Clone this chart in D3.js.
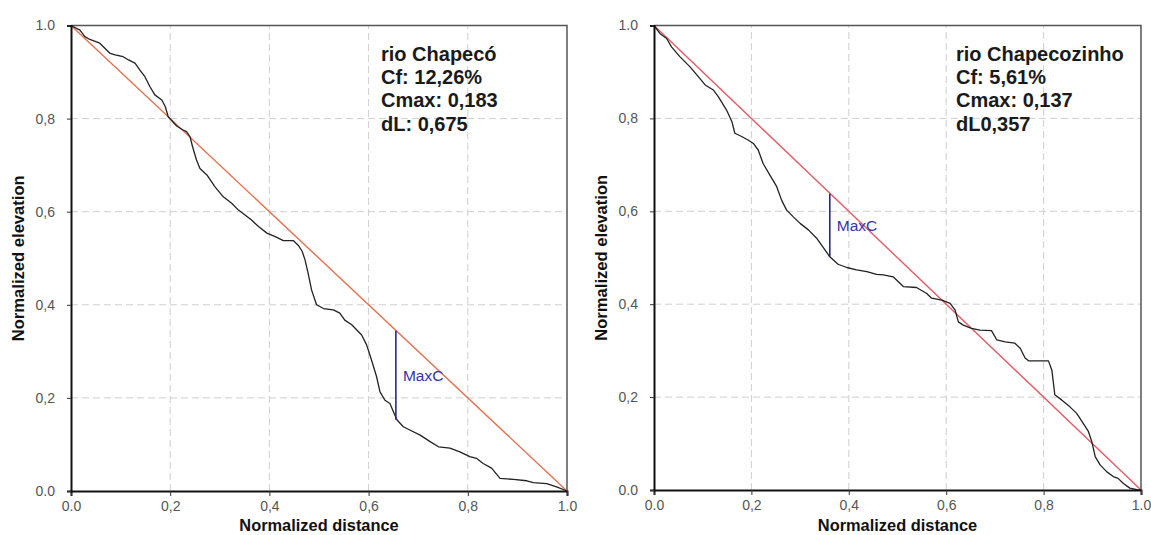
<!DOCTYPE html>
<html>
<head>
<meta charset="utf-8">
<script src="https://cdn.jsdelivr.net/npm/d3@7"></script>
<style>
  html, body { margin: 0; padding: 0; background: #fff; }
  svg { display: block; font-family: "Liberation Sans", Arial, sans-serif; }
</style>
</head>
<body>
<svg id="chart" width="1151" height="535"></svg>
<script>
// ---- Data ----
const tickValues = [0, 0.2, 0.4, 0.6, 0.8, 1.0];
const tickLabels = ["0.0", "0,2", "0,4", "0,6", "0,8", "1.0"];

const chapecoDistance = [0, 0.018, 0.028, 0.038, 0.058, 0.079, 0.089, 0.105, 0.116, 0.129, 0.139, 0.149, 0.159, 0.169, 0.183, 0.190, 0.196, 0.201, 0.213, 0.225, 0.233, 0.240, 0.245, 0.253, 0.260, 0.274, 0.290, 0.307, 0.324, 0.337, 0.351, 0.364, 0.378, 0.395, 0.415, 0.428, 0.448, 0.458, 0.466, 0.472, 0.478, 0.485, 0.495, 0.509, 0.529, 0.542, 0.552, 0.566, 0.586, 0.596, 0.606, 0.616, 0.623, 0.633, 0.643, 0.650, 0.657, 0.670, 0.683, 0.704, 0.724, 0.741, 0.764, 0.784, 0.804, 0.818, 0.831, 0.848, 0.865, 0.892, 0.919, 0.932, 0.959, 0.979, 1.0];
const chapecoElevation = [1.0, 0.990, 0.976, 0.970, 0.962, 0.940, 0.937, 0.933, 0.926, 0.919, 0.904, 0.890, 0.869, 0.851, 0.840, 0.826, 0.804, 0.798, 0.784, 0.776, 0.772, 0.761, 0.740, 0.711, 0.693, 0.679, 0.654, 0.632, 0.618, 0.604, 0.593, 0.582, 0.568, 0.554, 0.545, 0.538, 0.538, 0.528, 0.515, 0.496, 0.468, 0.432, 0.400, 0.392, 0.389, 0.382, 0.367, 0.357, 0.335, 0.314, 0.281, 0.246, 0.213, 0.195, 0.188, 0.170, 0.153, 0.138, 0.131, 0.120, 0.106, 0.095, 0.092, 0.084, 0.074, 0.070, 0.059, 0.049, 0.027, 0.025, 0.022, 0.018, 0.016, 0.009, 0.0];

const chapecozinhoDistance = [0, 0.012, 0.026, 0.036, 0.053, 0.074, 0.094, 0.105, 0.122, 0.132, 0.149, 0.160, 0.166, 0.180, 0.194, 0.204, 0.214, 0.224, 0.238, 0.252, 0.262, 0.272, 0.286, 0.300, 0.317, 0.334, 0.351, 0.361, 0.378, 0.396, 0.416, 0.437, 0.457, 0.471, 0.491, 0.512, 0.539, 0.560, 0.570, 0.591, 0.608, 0.618, 0.625, 0.635, 0.652, 0.669, 0.693, 0.704, 0.721, 0.741, 0.752, 0.762, 0.769, 0.793, 0.810, 0.817, 0.823, 0.837, 0.854, 0.868, 0.881, 0.892, 0.899, 0.906, 0.916, 0.930, 0.943, 0.953, 0.964, 0.977, 0.994, 1.0];
const chapecozinhoElevation = [1.0, 0.983, 0.972, 0.954, 0.933, 0.911, 0.886, 0.872, 0.861, 0.847, 0.818, 0.793, 0.768, 0.761, 0.753, 0.746, 0.732, 0.703, 0.678, 0.653, 0.624, 0.603, 0.588, 0.574, 0.560, 0.542, 0.517, 0.502, 0.486, 0.479, 0.474, 0.470, 0.464, 0.463, 0.459, 0.438, 0.436, 0.423, 0.413, 0.409, 0.402, 0.388, 0.362, 0.355, 0.348, 0.344, 0.343, 0.323, 0.319, 0.316, 0.305, 0.284, 0.278, 0.278, 0.278, 0.258, 0.205, 0.194, 0.179, 0.165, 0.144, 0.126, 0.104, 0.072, 0.054, 0.039, 0.029, 0.025, 0.014, 0.004, 0.0, 0.0];

const chapecoInfo = ["rio Chapecó", "Cf: 12,26%", "Cmax: 0,183", "dL: 0,675"];
const chapecozinhoInfo = ["rio Chapecozinho", "Cf: 5,61%", "Cmax: 0,137", "dL0,357"];

// MaxC segments: [distance, top elevation, bottom elevation]
const chapecoMaxC = [0.655, 0.344, 0.153];
const chapecozinhoMaxC = [0.361, 0.638, 0.502];

const xTitle = "Normalized distance";
const yTitle = "Normalized elevation";

// ---- Drawing ----
const svg = d3.select("#chart");

function drawPanel(cfg) {
  const x = d3.scaleLinear().domain([0, 1]).range([cfg.x0, cfg.x1]);
  const y = d3.scaleLinear().domain([0, 1]).range([cfg.y0, cfg.y1]);
  const g = svg.append("g");

  // grid
  g.append("g").selectAll("line.v").data(tickValues.slice(1, 5)).join("line")
    .attr("x1", d => x(d)).attr("x2", d => x(d))
    .attr("y1", y(0)).attr("y2", y(1))
    .attr("stroke", "#cfcfcf").attr("stroke-width", 1).attr("stroke-dasharray", "7,4");
  g.append("g").selectAll("line.h").data(tickValues.slice(1, 5)).join("line")
    .attr("y1", d => y(d)).attr("y2", d => y(d))
    .attr("x1", x(0)).attr("x2", x(1))
    .attr("stroke", "#cfcfcf").attr("stroke-width", 1).attr("stroke-dasharray", "7,4");

  // frame top & right
  g.append("path")
    .attr("d", `M${x(0)},${y(1)}H${x(1)}V${y(0)}`)
    .attr("fill", "none").attr("stroke", "#555").attr("stroke-width", 1.5);

  // diagonal
  g.append("line")
    .attr("x1", x(0)).attr("y1", y(1)).attr("x2", x(1)).attr("y2", y(0))
    .attr("stroke", cfg.diagColor).attr("stroke-width", 1.4);

  // curve
  const pts = cfg.dist.map((d, i) => [d, cfg.elev[i]]);
  g.append("path").datum(pts)
    .attr("d", d3.line().x(d => x(d[0])).y(d => y(d[1])))
    .attr("fill", "none").attr("stroke", "#222").attr("stroke-width", 1.3)
    .attr("stroke-linejoin", "round");

  // MaxC
  g.append("line")
    .attr("x1", x(cfg.maxc[0])).attr("x2", x(cfg.maxc[0]))
    .attr("y1", y(cfg.maxc[1])).attr("y2", y(cfg.maxc[2]))
    .attr("stroke", "#28288a").attr("stroke-width", 1.6);
  g.append("text")
    .attr("x", x(cfg.maxc[0]) + 7)
    .attr("y", y((cfg.maxc[1] + cfg.maxc[2]) / 2) + 6)
    .attr("font-size", 15.5).attr("fill", "#3434a8")
    .text("MaxC");

  // axes
  const xAxis = d3.axisBottom(x).tickValues(tickValues)
    .tickFormat((d, i) => tickLabels[i]).tickSize(5).tickPadding(5);
  const yAxis = d3.axisLeft(y).tickValues(tickValues)
    .tickFormat((d, i) => tickLabels[i]).tickSize(4).tickPadding(12);
  const gx = g.append("g").attr("transform", `translate(0,${y(0)})`).call(xAxis);
  const gy = g.append("g").attr("transform", `translate(${x(0)},0)`).call(yAxis);
  [gx, gy].forEach(a => {
    a.select(".domain").attr("stroke", "#111").attr("stroke-width", 2);
    a.selectAll(".tick line").attr("stroke", "#333").attr("stroke-width", 1);
    a.selectAll(".tick text").attr("font-size", 14).attr("fill", "#555")
      .attr("font-family", "'Liberation Sans', Arial, sans-serif");
  });

  // titles
  g.append("text")
    .attr("x", (x(0) + x(1)) / 2).attr("y", 531)
    .attr("text-anchor", "middle").attr("font-size", 16.4).attr("font-weight", "bold")
    .attr("fill", "#111").text(xTitle);
  g.append("text")
    .attr("transform", `translate(${cfg.yTitleX},${(y(0) + y(1)) / 2}) rotate(-90)`)
    .attr("text-anchor", "middle").attr("font-size", 16.6).attr("font-weight", "bold")
    .attr("fill", "#111").text(yTitle);

  // info box
  g.append("g").selectAll("text").data(cfg.info).join("text")
    .attr("x", cfg.infoX).attr("y", (d, i) => 61 + i * 23.2)
    .attr("font-size", 20).attr("font-weight", "bold").attr("fill", "#1a1a1a")
    .text(d => d);
}

drawPanel({
  x0: 71, x1: 567, y0: 491, y1: 25.5,
  dist: chapecoDistance, elev: chapecoElevation,
  maxc: chapecoMaxC, info: chapecoInfo, infoX: 381,
  diagColor: "#e2714f", yTitleX: 24
});
drawPanel({
  x0: 654, x1: 1141, y0: 490, y1: 25.5,
  dist: chapecozinhoDistance, elev: chapecozinhoElevation,
  maxc: chapecozinhoMaxC, info: chapecozinhoInfo, infoX: 956,
  diagColor: "#e25c66", yTitleX: 607
});
</script>
</body>
</html>
